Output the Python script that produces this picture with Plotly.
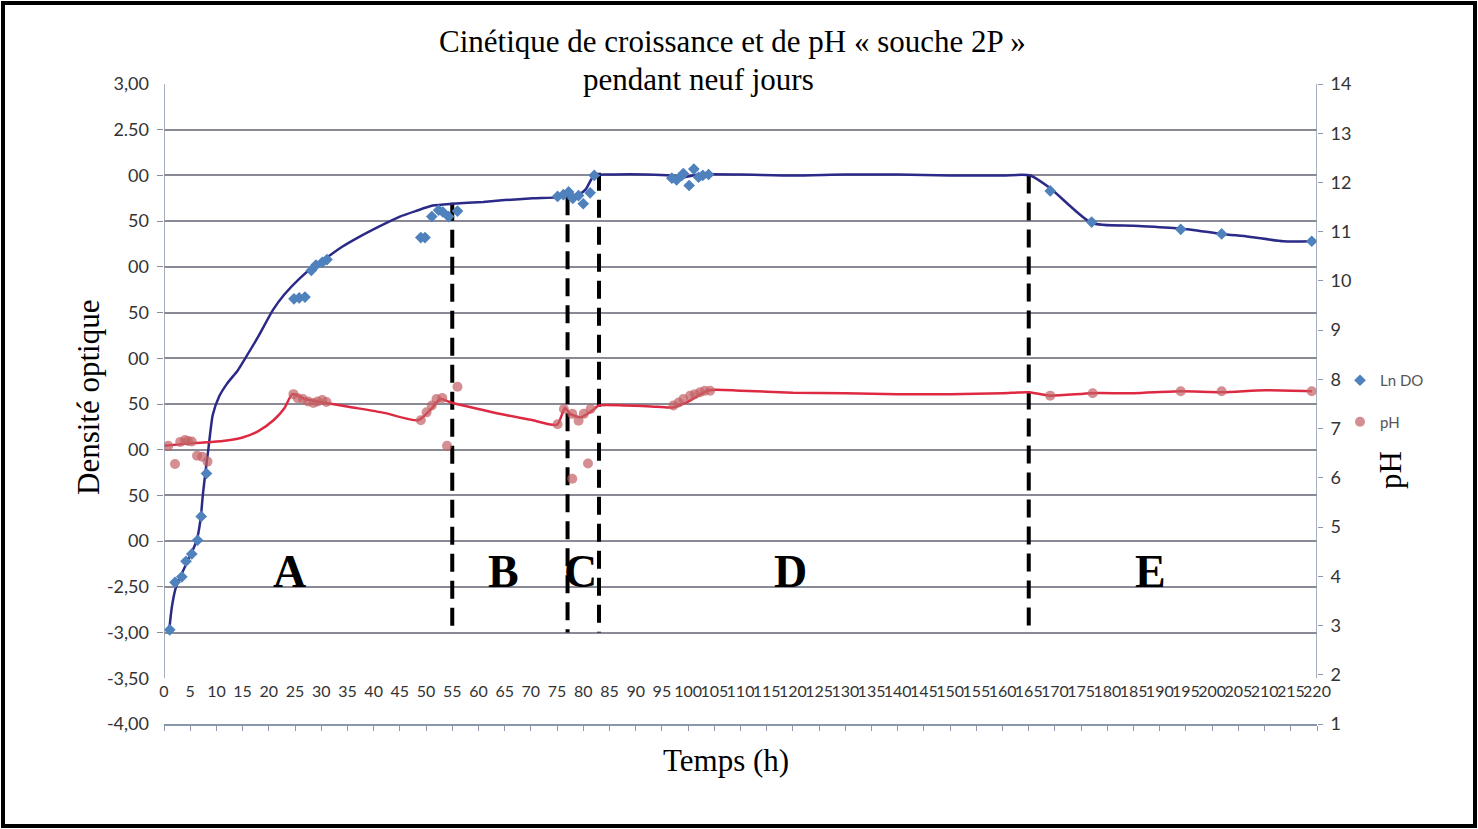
import plotly.graph_objects as go

# ---------------- data ----------------
ln_do_t = [1.1, 2.1, 3.4, 4.2, 5.3, 6.4, 7.1, 8.1, 24.8, 25.8, 26.9, 28.1, 29.0, 30.2, 31.1,
           49.0, 49.8, 51.1, 52.4, 53.2, 54.3, 56.0, 75.1, 76.2, 77.2, 78.0, 79.1, 80.0, 81.3, 82.1,
           96.9, 97.8, 98.8, 99.1, 100.2, 101.1, 102.0, 102.8, 103.9, 169.1, 177.0, 194.0, 201.8, 219.0]
ln_do = [-2.97, -2.45, -2.39, -2.22, -2.14, -1.99, -1.73, -1.26, 0.65, 0.66, 0.67, 0.96, 1.02, 1.05, 1.08,
         1.32, 1.32, 1.55, 1.62, 1.60, 1.55, 1.61, 1.77, 1.79, 1.82, 1.75, 1.78, 1.69, 1.81, 2.0,
         1.97, 1.95, 2.0, 2.02, 1.89, 2.07, 1.98, 2.0, 2.01, 1.83, 1.49, 1.41, 1.36, 1.28]

ph_t = [0.8, 2.1, 3.1, 4.0, 4.6, 5.3, 6.3, 7.3, 8.3, 24.7, 25.5, 26.5, 27.5, 28.5, 29.3, 30.2, 31.0,
        49.0, 50.1, 51.1, 52.0, 53.1, 54.0, 56.0, 75.1, 76.3, 77.9, 77.9, 79.1, 80.1, 80.9, 81.4,
        97.2, 98.2, 99.1, 100.4, 101.3, 102.3, 103.2, 104.2, 169.1, 177.2, 194.0, 201.8, 219.0]
ph = [6.65, 6.28, 6.73, 6.77, 6.75, 6.74, 6.45, 6.43, 6.33, 7.70, 7.62, 7.60, 7.55, 7.52, 7.55, 7.58, 7.54,
      7.17, 7.33, 7.47, 7.60, 7.62, 6.65, 7.85, 7.09, 7.40, 7.30, 5.98, 7.16, 7.30, 6.29, 7.40,
      7.47, 7.53, 7.60, 7.67, 7.70, 7.74, 7.77, 7.77, 7.67, 7.72, 7.76, 7.76, 7.76]

# hand-drawn trend curves
ln_fit_t = [1, 1.5, 2.3, 4, 6.2, 7.0, 7.4, 7.9, 8.45, 9.3, 10.5, 12, 14.1, 15.5, 18, 20.8, 23, 26, 28.5,
            31, 34, 37, 41, 45, 48, 51.3, 55, 60.9, 65, 70.4, 75, 79.4, 80.5, 82.1, 86, 92, 96.6, 99,
            102, 110, 120, 130, 140, 150, 160, 165.3, 169.1, 177, 185, 194, 201.8, 207, 213.6, 219]
ln_fit = [-2.97, -2.72, -2.5, -2.28, -2.0, -1.75, -1.5, -1.25, -1.0, -0.62, -0.42, -0.28, -0.13, 0.0, 0.24,
          0.53, 0.70, 0.88, 1.0, 1.1, 1.22, 1.32, 1.44, 1.55, 1.61, 1.67, 1.69, 1.71, 1.73, 1.75, 1.76,
          1.80, 1.85, 2.0, 2.01, 2.01, 2.0, 1.98, 2.01, 2.01, 2.0, 2.01, 2.01, 2.0, 2.0, 2.0, 1.86, 1.48,
          1.45, 1.42, 1.36, 1.33, 1.28, 1.28]

ph_fit_t = [0, 3, 6, 9, 12, 15, 18, 21, 23, 24.5, 27, 31, 36, 42, 48.5, 51, 52.7, 55, 60, 65, 70, 75,
            76.5, 77.5, 79.5, 81.5, 83, 88, 93, 97, 100, 104, 110, 120, 130, 140, 150, 160, 165, 169,
            177, 185, 194, 202, 210, 219]
ph_fit = [6.65, 6.68, 6.71, 6.73, 6.76, 6.82, 6.95, 7.18, 7.42, 7.70, 7.60, 7.52, 7.43, 7.32, 7.17, 7.40,
          7.60, 7.52, 7.40, 7.28, 7.18, 7.08, 7.42, 7.30, 7.23, 7.35, 7.47, 7.47, 7.45, 7.43, 7.55, 7.78,
          7.77, 7.73, 7.72, 7.70, 7.70, 7.72, 7.74, 7.67, 7.72, 7.72, 7.76, 7.74, 7.78, 7.76]

# phase boundaries (time, top value on left axis)
phase_t = [55, 77, 83, 165]
phase_top = [1.70, 1.76, 2.03, 2.0]
phase_bottom = -3.0
phase_names = ["A", "B", "C", "D", "E"]
phase_label_t = [23.9, 64.7, 79.4, 119.5, 188.2]
phase_label_y = -2.33

left_tickvals = [-4, -3.5, -3, -2.5, -2, -1.5, -1, -0.5, 0, 0.5, 1, 1.5, 2, 2.5, 3]
left_ticktext = ["-4,00", "-3,50", "-3,00", "-2,50", "00", "50", "00", "50", "00", "50", "00", "50", "00", "2.50", "3,00"]
grid_vals = [-3, -2.5, -2, -1.5, -1, -0.5, 0, 0.5, 1, 1.5, 2, 2.5]
right_tickvals = list(range(1, 15))
x_tickvals = list(range(0, 225, 5))

# ---------------- figure ----------------
SERIF = "Liberation Serif, Times New Roman, serif"
TICKF = "Lato, Open Sans, sans-serif"
AXC = "#8a96aa"
GRIDC = "#8a8a96"
PL, PR, PT, PB = 164, 1317, 84, 724


def px(xp, yp):
    return (xp - PL) / (PR - PL), (PB - yp) / (PB - PT)


fig = go.Figure()

# dashed phase lines
dx, dy = [], []
for t, top in zip(phase_t, phase_top):
    dx += [t, t, None]
    dy += [top, phase_bottom, None]
fig.add_trace(go.Scatter(x=dx, y=dy, mode="lines", yaxis="y",
                         line=dict(color="black", width=4, dash="18px,9px"),
                         showlegend=False, hoverinfo="skip"))

fig.add_trace(go.Scatter(x=ph_fit_t, y=ph_fit, mode="lines", yaxis="y2",
                         line=dict(color="#dd2a42", width=2.5, shape="spline", smoothing=0.6),
                         showlegend=False, hoverinfo="skip"))
fig.add_trace(go.Scatter(x=ph_t, y=ph, mode="markers", yaxis="y2", name="pH", legendrank=2,
                         legendgroup="b",
                         marker=dict(symbol="circle", size=10, color="rgba(195,95,100,0.7)")))

fig.add_trace(go.Scatter(x=ln_fit_t, y=ln_fit, mode="lines", yaxis="y",
                         line=dict(color="#2b2a88", width=2.5, shape="spline", smoothing=0.6),
                         showlegend=False, hoverinfo="skip"))
fig.add_trace(go.Scatter(x=ln_do_t, y=ln_do, mode="markers", yaxis="y", name="Ln DO", legendrank=1,
                         legendgroup="a",
                         marker=dict(symbol="diamond", size=9, color="#4f81bd")))

# empty trace to hold grid axis
fig.add_trace(go.Scatter(x=[None], y=[None], yaxis="y3", showlegend=False, hoverinfo="skip"))

for name, t in zip(phase_names, phase_label_t):
    fig.add_annotation(x=t, y=phase_label_y, xref="x", yref="y", text="<b>%s</b>" % name,
                       showarrow=False, xanchor="center", yanchor="middle",
                       font=dict(family=SERIF, size=46, color="black"))

lx, ly = px(1340, 364)
fig.update_layout(
    width=1478, height=829,
    margin=dict(l=PL, r=1478 - PR, t=PT, b=829 - PB),
    paper_bgcolor="white", plot_bgcolor="white",
    xaxis=dict(range=[0, 220], tickvals=x_tickvals, ticktext=[str(v) for v in x_tickvals],
               tickangle=0, showgrid=False, zeroline=False, showline=True, linecolor=AXC, linewidth=1.5,
               ticks="outside", ticklen=5, tickcolor=AXC, ticklabelposition="inside",
               ticklabelstandoff=24, ticklabeloverflow="allow",
               tickfont=dict(family=TICKF, size=16, color="#333333")),
    yaxis=dict(range=[-4, 3], tickvals=left_tickvals, ticktext=left_ticktext, showgrid=False,
               zeroline=False, showline=False, ticks="", ticklabelstandoff=14,
               tickfont=dict(family=TICKF, size=18, color="#333333")),
    yaxis3=dict(range=[-4, 3], overlaying="y", side="left", tickvals=grid_vals, showgrid=True,
                gridcolor=GRIDC, gridwidth=1.7, showticklabels=False, ticks="outside", ticklen=6,
                tickcolor=GRIDC, zeroline=False, showline=False),
    yaxis2=dict(range=[1, 14], overlaying="y", side="right", tickvals=right_tickvals, showgrid=False,
                zeroline=False, showline=False, ticks="outside", ticklen=5, tickcolor=AXC,
                ticklabelstandoff=4,
                tickfont=dict(family=TICKF, size=18, color="#333333")),
    legend=dict(x=lx, y=ly, xanchor="left", yanchor="top", traceorder="grouped", tracegroupgap=19,
                font=dict(family=TICKF, size=15, color="#555555"), bgcolor="rgba(0,0,0,0)"),
    showlegend=True,
)

# axis lines (Excel-style: vertical axes stop at -3.5)
for xv in [0, 220]:
    fig.add_shape(type="line", xref="x", yref="y", x0=xv, x1=xv, y0=-3.5, y1=3,
                  line=dict(color=AXC, width=1.5), layer="above")

# titles (pixel positions -> paper)
texts = [
    ("Cinétique de croissance et de pH « souche 2P »", 732, 42, 0),
    ("pendant neuf jours", 698, 80, 0),
    ("Temps (h)", 726, 760, 0),
    ("Densité optique", 88, 398, -90),
    ("pH", 1390, 470, -90),
]
for txt, xp, yp, ang in texts:
    ax_, ay_ = px(xp, yp)
    fig.add_annotation(x=ax_, y=ay_, xref="paper", yref="paper", text=txt, textangle=ang,
                       xanchor="center", yanchor="middle", showarrow=False,
                       font=dict(family=SERIF, size=31, color="black"))

# outer black frame
x0, y0 = px(3, 826)
x1, y1 = px(1475, 3)
fig.add_shape(type="rect", xref="paper", yref="paper", x0=x0, x1=x1, y0=y0, y1=y1,
              line=dict(color="black", width=4), layer="above")

fig.write_html("out.html", config={"displayModeBar": False},
               post_script="document.body.style.margin='0px';")
